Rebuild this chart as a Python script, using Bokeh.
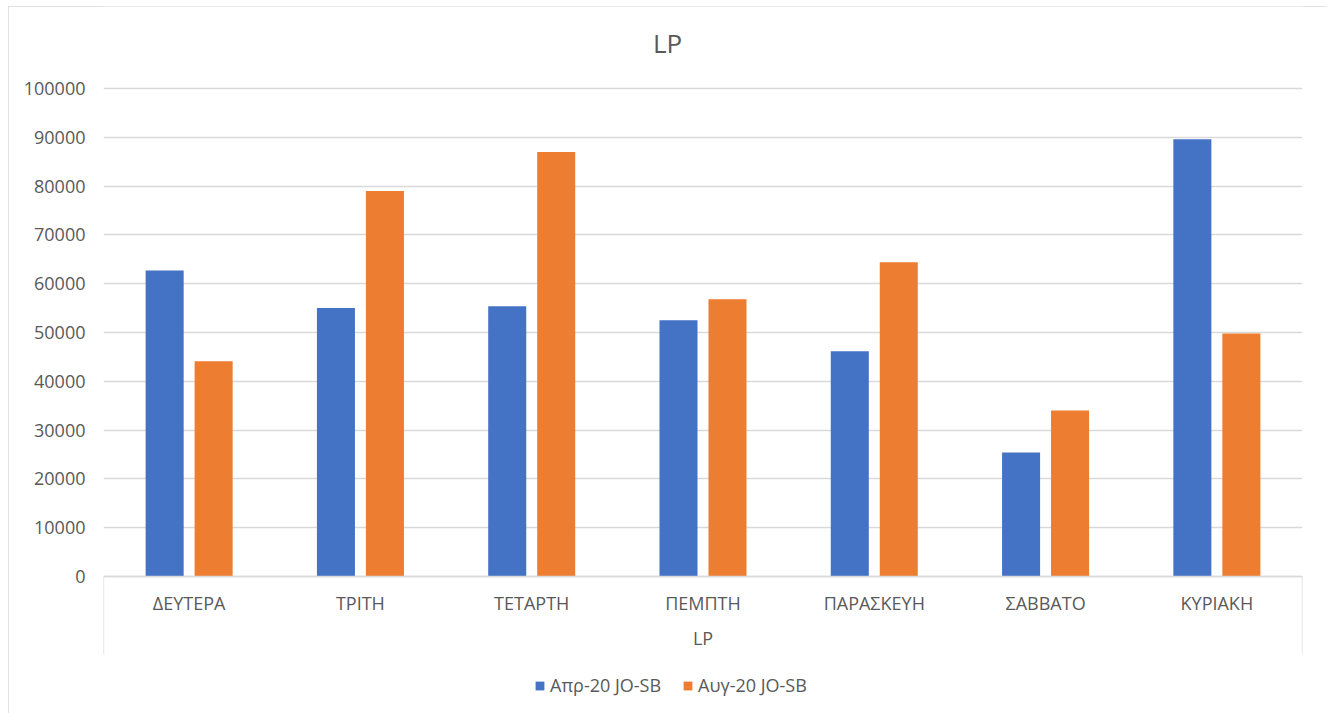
from bokeh.plotting import figure
from bokeh.models import (FactorRange, ColumnDataSource, FixedTicker, Legend, LegendItem,
                          BasicTickFormatter, Label)
from bokeh.transform import dodge
from bokeh.embed import file_html
from bokeh.resources import INLINE

# ---- data ----
group = "LP"
days = ["ΔΕΥΤΕΡΑ", "ΤΡΙΤΗ", "ΤΕΤΑΡΤΗ", "ΠΕΜΠΤΗ", "ΠΑΡΑΣΚΕΥΗ", "ΣΑΒΒΑΤΟ", "ΚΥΡΙΑΚΗ"]
apr_values = [62700, 55000, 55400, 52500, 46150, 25400, 89600]
aug_values = [44100, 79000, 87000, 56800, 64400, 34000, 49800]
series_names = ["Απρ-20 JO-SB", "Αυγ-20 JO-SB"]
y_ticks = list(range(0, 100001, 10000))
title_text = "LP"

FONT = "Open Sans"
TXT = "#595959"
GRID = "#D9D9D9"
BLUE = "#4472C4"
ORANGE = "#ED7D31"

factors = [(group, d) for d in days]
src = ColumnDataSource(dict(x=factors, apr=apr_values, aug=aug_values))

YMAX = 100000
PLOT_H = 488          # pixels used by 0..YMAX
TOP = 82              # pixels of frame above YMAX (title area)
EXTRA = 131           # pixels of frame below the baseline (category axis + legend)
FW, FH = 1199, TOP + PLOT_H + EXTRA
ML, MR, MT, MB = 95, 25, 0, 6
px = YMAX / PLOT_H    # data units per pixel
n = len(days)
cat_px = FW / n       # pixels per category

p = figure(x_range=FactorRange(*factors), y_range=(-EXTRA * px, YMAX + TOP * px),
           frame_width=FW, frame_height=FH, output_backend="svg", toolbar_location=None,
           min_border_left=ML, min_border_right=MR, min_border_top=MT, min_border_bottom=MB,
           margin=(6, 0, 0, 8),
           styles={"outline": "1px solid #D9D9D9", "outline-offset": "-1px"})
p.title = None

r1 = p.vbar(x=dodge("x", -0.143, range=p.x_range), top="apr", width=0.222, source=src,
            fill_color=BLUE, line_color=None)
r2 = p.vbar(x=dodge("x", 0.143, range=p.x_range), top="aug", width=0.222, source=src,
            fill_color=ORANGE, line_color=None)

# vertical edge lines of the two-level category axis
p.segment(x0=[0, n], y0=[0, 0], x1=[0, n], y1=[-78 * px, -78 * px],
          line_color=GRID, line_width=1.3)

# chart title (centred on the whole chart, not on the plot area)
p.add_layout(Label(x=n / 2 - 35.5 / cat_px, y=YMAX + 45.5 * px, text=title_text,
                   text_align="center", text_baseline="middle",
                   text_font=FONT, text_font_size="26px", text_color=TXT))

# frame / grid
p.outline_line_color = None
p.xgrid.grid_line_color = None
p.ygrid.grid_line_color = GRID
p.ygrid.grid_line_width = 1.3
p.ygrid.ticker = FixedTicker(ticks=y_ticks)

# y axis
p.yaxis.ticker = FixedTicker(ticks=y_ticks)
p.yaxis.formatter = BasicTickFormatter(use_scientific=False)
p.yaxis.axis_line_color = None
p.yaxis.major_tick_line_color = None
p.yaxis.minor_tick_line_color = None
p.yaxis.major_label_text_font = FONT
p.yaxis.major_label_text_font_size = "18px"
p.yaxis.major_label_text_color = TXT
p.yaxis.major_label_standoff = 12

# x axis (two level), drawn on the baseline
xa = p.xaxis[0]
xa.fixed_location = 0
xa.axis_line_color = GRID
xa.axis_line_width = 1.3
xa.major_tick_line_color = None
xa.minor_tick_line_color = None
xa.major_label_text_font = FONT
xa.major_label_text_font_size = "18px"
xa.major_label_text_color = TXT
xa.major_label_standoff = 8
xa.group_text_font = FONT
xa.group_text_font_size = "18px"
xa.group_text_font_style = "normal"
xa.group_text_color = TXT
xa.separator_line_color = None

legend = Legend(items=[LegendItem(label=series_names[0], renderers=[r1]),
                       LegendItem(label=series_names[1], renderers=[r2])],
                orientation="horizontal", location=(431, 10),
                label_text_font=FONT, label_text_font_size="18px", label_text_color=TXT,
                glyph_width=11, glyph_height=11, label_standoff=5, spacing=21,
                margin=0, padding=0,
                border_line_color=None, background_fill_alpha=0)
p.add_layout(legend, "center")

open("out.html", "w").write(file_html(p, INLINE))
